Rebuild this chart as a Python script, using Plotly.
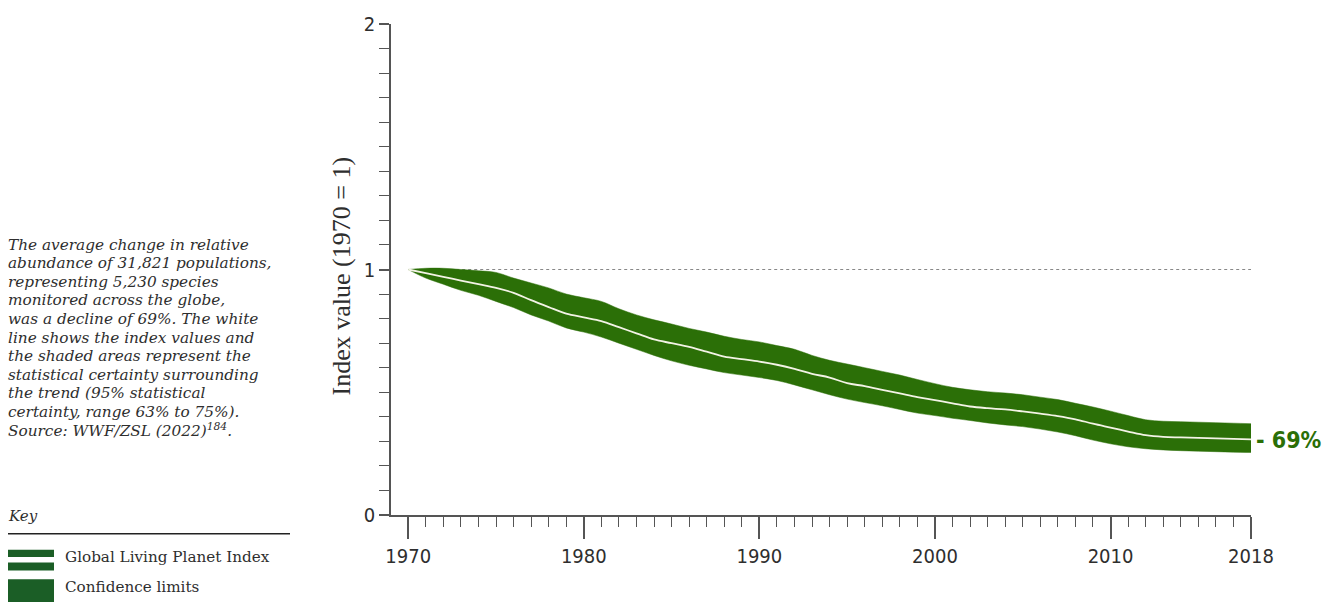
import plotly.graph_objects as go

years = list(range(1970, 2019))
index_value = [1.00, 0.985, 0.97, 0.955, 0.94, 0.925, 0.905, 0.875, 0.847, 0.82,
               0.805, 0.79, 0.765, 0.74, 0.715, 0.70, 0.685, 0.665, 0.645, 0.635,
               0.625, 0.612, 0.595, 0.575, 0.56, 0.537, 0.525, 0.51, 0.495, 0.48,
               0.468, 0.455, 0.442, 0.435, 0.43, 0.422, 0.413, 0.403, 0.39, 0.372,
               0.356, 0.34, 0.325, 0.318, 0.316, 0.314, 0.312, 0.31, 0.308]
upper_limit = [1.00, 1.005, 1.005, 1.0, 0.995, 0.988, 0.965, 0.945, 0.925, 0.90,
               0.885, 0.87, 0.84, 0.815, 0.795, 0.778, 0.76, 0.745, 0.728, 0.715,
               0.705, 0.69, 0.675, 0.65, 0.63, 0.615, 0.60, 0.585, 0.57, 0.552,
               0.535, 0.52, 0.51, 0.502, 0.497, 0.49, 0.48, 0.47, 0.455, 0.44,
               0.423, 0.405, 0.388, 0.382, 0.38, 0.378, 0.376, 0.374, 0.372]
lower_limit = [1.00, 0.965, 0.94, 0.915, 0.895, 0.87, 0.845, 0.815, 0.79, 0.762,
               0.745, 0.725, 0.70, 0.675, 0.65, 0.628, 0.61, 0.595, 0.58, 0.57,
               0.56, 0.548, 0.53, 0.51, 0.49, 0.472, 0.458, 0.445, 0.43, 0.415,
               0.405, 0.394, 0.385, 0.375, 0.367, 0.36, 0.35, 0.338, 0.323, 0.305,
               0.29, 0.278, 0.27, 0.265, 0.262, 0.26, 0.258, 0.256, 0.255]
x_tick_vals = [1970, 1980, 1990, 2000, 2010, 2018]
x_tick_text = ["1970", "1980", "1990", "2000", "2010", "2018"]
y_tick_vals = [0, 1, 2]
y_tick_text = ["0", "1", "2"]
change_label = "- 69%"
y_title = "Index value (1970 = 1)"
caption_lines = [
    "The average change in relative",
    "abundance of 31,821 populations,",
    "representing 5,230 species",
    "monitored across the globe,",
    "was a decline of 69%. The white",
    "line shows the index values and",
    "the shaded areas represent the",
    "statistical certainty surrounding",
    "the trend (95% statistical",
    "certainty, range 63% to 75%).",
    "Source: WWF/ZSL (2022)<sup>184</sup>.",
]
legend_labels = ["Global Living Planet Index", "Confidence limits"]

GREEN = "#2b6f07"
KEY_GREEN = "#1b5e26"
AXIS = "#555555"
TEXT = "#2e2e2e"
NARROW = "DejaVu Sans Condensed, Roboto, sans-serif"
SERIF = "DejaVu Serif, Georgia, serif"

W, H = 1328, 603
L, R, T, B = 391, 77, 19, 88
PW, PH = W - L - R, H - T - B


def px(x):
    return (x - L) / PW


def py(y):
    return (H - B - y) / PH


fig = go.Figure()

# reference dotted line at 1
fig.add_trace(go.Scatter(x=[years[0], years[-1]], y=[1, 1], mode="lines",
                         line=dict(color="#888888", width=1, dash="dot"),
                         hoverinfo="skip", showlegend=False))
# confidence band
fig.add_trace(go.Scatter(x=years, y=lower_limit, mode="lines",
                         line=dict(color=GREEN, width=0.5, shape="spline", smoothing=1),
                         showlegend=False))
fig.add_trace(go.Scatter(x=years, y=upper_limit, mode="lines", fill="tonexty",
                         fillcolor=GREEN,
                         line=dict(color=GREEN, width=0.5, shape="spline", smoothing=1),
                         showlegend=False))
# index line
fig.add_trace(go.Scatter(x=years, y=index_value, mode="lines",
                         line=dict(color="#f3f3e6", width=1.8, shape="spline", smoothing=1),
                         showlegend=False))

annotations = []
annotations.append(dict(x=years[-1], y=index_value[-1], xref="x", yref="y",
                        text=change_label, showarrow=False, xanchor="left",
                        xshift=3, yshift=-1,
                        font=dict(family=NARROW, size=23, color=GREEN, weight="bold")))
annotations.append(dict(x=px(341), y=py(274), xref="paper", yref="paper",
                        text=y_title, showarrow=False, textangle=-90,
                        xanchor="center", yanchor="middle",
                        font=dict(family="Liberation Serif, serif", size=26, color=TEXT)))
for i, line in enumerate(caption_lines):
    annotations.append(dict(x=px(6), y=py(242 + i * 18.75), xref="paper", yref="paper",
                            text="<i>" + line + "</i>", showarrow=False,
                            xanchor="left", yanchor="middle",
                            font=dict(family=SERIF, size=15.3, color=TEXT)))
annotations.append(dict(x=px(6), y=py(516), xref="paper", yref="paper",
                        text="<i>Key</i>", showarrow=False, xanchor="left",
                        yanchor="middle", font=dict(family=SERIF, size=15, color=TEXT)))
for i, lab in enumerate(legend_labels):
    annotations.append(dict(x=px(63), y=py(557 + i * 31), xref="paper", yref="paper",
                            text=lab, showarrow=False, xanchor="left", yanchor="middle",
                            font=dict(family=SERIF, size=15.2, color=TEXT)))

shapes = [
    dict(type="line", xref="paper", yref="paper", x0=px(8), x1=px(290),
         y0=py(534), y1=py(534), line=dict(color="#222222", width=1.5)),
    dict(type="rect", xref="paper", yref="paper", x0=px(8), x1=px(54),
         y0=py(550), y1=py(557.5), fillcolor=KEY_GREEN, line=dict(width=0)),
    dict(type="rect", xref="paper", yref="paper", x0=px(8), x1=px(54),
         y0=py(563), y1=py(571), fillcolor=KEY_GREEN, line=dict(width=0)),
    dict(type="rect", xref="paper", yref="paper", x0=px(8), x1=px(54),
         y0=py(580), y1=py(603), fillcolor=KEY_GREEN, line=dict(width=0)),
]

tick_font = dict(family=NARROW, size=20, color=TEXT)

fig.update_layout(
    width=W, height=H,
    margin=dict(l=L, r=R, t=T, b=B, pad=0),
    paper_bgcolor="white", plot_bgcolor="white",
    showlegend=False,
    annotations=annotations,
    shapes=shapes,
    xaxis=dict(range=[1969.02, 2018], tickmode="array", tickvals=x_tick_vals,
               ticktext=x_tick_text, ticks="outside", ticklen=22, tickwidth=1.5,
               tickcolor=AXIS, showline=True, linecolor=AXIS, linewidth=1.5,
               showgrid=False, zeroline=False,
               minor=dict(dtick=1, tick0=1970, ticks="outside", ticklen=10,
                          tickwidth=1.2, tickcolor=AXIS, showgrid=False),
               tickfont=tick_font),
    yaxis=dict(range=[0, 2], tickmode="array", tickvals=y_tick_vals,
               ticktext=y_tick_text, ticks="outside", ticklen=10, tickwidth=1.5,
               tickcolor=AXIS, showline=True, linecolor=AXIS, linewidth=1.5,
               showgrid=False, zeroline=False,
               minor=dict(dtick=0.1, tick0=0, ticks="outside", ticklen=10,
                          tickwidth=1.2, tickcolor=AXIS, showgrid=False),
               tickfont=tick_font),
)

fig.write_html("out.html", config={"displayModeBar": False},
               post_script="document.body.style.margin='0';document.body.style.overflow='hidden';")
